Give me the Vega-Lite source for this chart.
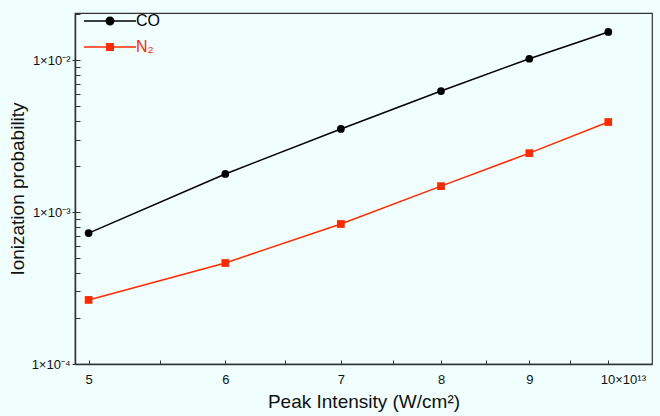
{
  "$schema": "https://vega.github.io/schema/vega-lite/v6.json",
  "width": 577,
  "height": 351,
  "autosize": {"type": "none"},
  "padding": {"left": 75, "top": 13, "right": 8, "bottom": 52},
  "background": "#f0fefe",
  "config": {
    "view": {"stroke": "#333333", "strokeWidth": 1.2},
    "font": "Liberation Sans",
    "axis": {"domainColor": "#333333", "domainWidth": 1.5, "tickColor": "#333333", "labelColor": "#111111", "grid": false, "labelFont": "Liberation Sans", "titleFont": "Liberation Sans"}
  },
  "data": {
    "values": [
      {"intensity": 5, "prob": 0.000727, "series": "CO"},
      {"intensity": 6, "prob": 0.00178, "series": "CO"},
      {"intensity": 7, "prob": 0.00352, "series": "CO"},
      {"intensity": 8, "prob": 0.00625, "series": "CO"},
      {"intensity": 9, "prob": 0.0102, "series": "CO"},
      {"intensity": 10, "prob": 0.0153, "series": "CO"},
      {"intensity": 5, "prob": 0.000264, "series": "N₂"},
      {"intensity": 6, "prob": 0.000462, "series": "N₂"},
      {"intensity": 7, "prob": 0.000834, "series": "N₂"},
      {"intensity": 8, "prob": 0.00148, "series": "N₂"},
      {"intensity": 9, "prob": 0.00244, "series": "N₂"},
      {"intensity": 10, "prob": 0.00391, "series": "N₂"}
    ]
  },
  "layer": [
    {
      "mark": {"type": "line", "strokeWidth": 1.5},
      "encoding": {
        "x": {
          "field": "intensity", "type": "quantitative",
          "scale": {"type": "log", "domain": [4.91, 10.6], "nice": false},
          "axis": {
            "orient": "bottom", "values": [5, 6, 7, 8, 9, 10], "tickSize": 0, "labelPadding": 9,
            "labelFontSize": 13, "labelFlush": false,
            "labelExpr": "datum.value == 10 ? '10×10¹³' : datum.label",
            "labelAlign": {"condition": {"test": "datum.value == 10", "value": "left"}, "value": "center"},
            "labelOffset": {"condition": {"test": "datum.value == 10", "value": -8}, "value": 0},
            "title": "Peak Intensity (W/cm²)", "titleFontSize": 19, "titleFontWeight": "normal", "titlePadding": 6, "titleColor": "#111111"
          }
        },
        "y": {
          "field": "prob", "type": "quantitative",
          "scale": {"type": "log", "domain": [0.0001, 0.0204], "nice": false},
          "axis": {
            "orient": "left", "values": [0.0001, 0.001, 0.01], "tickSize": 3, "labelPadding": 2,
            "labelFontSize": 13, "labelFlush": false,
            "labelExpr": "datum.value > 0.005 ? '1×10⁻²' : (datum.value > 0.0005 ? '1×10⁻³' : '1×10⁻⁴')",
            "title": "Ionization probability", "titleFontSize": 19, "titleFontWeight": "normal", "titlePadding": 4, "titleColor": "#111111"
          }
        },
        "color": {
          "field": "series", "type": "nominal",
          "scale": {"domain": ["CO", "N₂"], "range": ["#000000", "#ff2a00"]},
          "legend": null
        }
      }
    },
    {
      "mark": {"type": "point", "filled": true, "opacity": 1, "size": 60},
      "encoding": {
        "x": {
          "field": "intensity", "type": "quantitative",
          "axis": {"orient": "bottom", "values": [5, 5.5, 6, 6.5, 7, 7.5, 8, 8.5, 9, 9.5, 10], "tickSize": -4, "labels": false, "domain": false, "title": null}
        },
        "y": {
          "field": "prob", "type": "quantitative",
          "axis": {
            "orient": "left",
            "values": [0.0001, 0.0002, 0.0003, 0.0004, 0.0005, 0.0006, 0.0007, 0.0008, 0.0009, 0.001, 0.002, 0.003, 0.004, 0.005, 0.006, 0.007, 0.008, 0.009, 0.01, 0.02],
            "tickSize": -5, "labels": false, "domain": false, "title": null
          }
        },
        "color": {"field": "series", "type": "nominal", "legend": null},
        "shape": {
          "field": "series", "type": "nominal",
          "scale": {"domain": ["CO", "N₂"], "range": ["circle", "square"]},
          "legend": null
        }
      }
    },
    {
      "mark": {"type": "point", "filled": true, "size": 0},
      "encoding": {
        "x": {"field": "intensity", "type": "quantitative", "axis": null},
        "y": {"field": "prob", "type": "quantitative", "axis": null},
        "fill": {
          "field": "series", "type": "nominal",
          "scale": {"domain": ["CO", "N₂"], "range": ["#000000", "#ff2a00"]},
          "legend": {
            "title": null, "orient": "none", "legendX": 27, "legendY": 0,
            "symbolSize": 100, "symbolOpacity": 1, "symbolStrokeWidth": 0,
            "labelFontSize": 16, "labelOffset": 18, "rowPadding": 10, "padding": 0,
            "labelColor": {"expr": "datum.label == 'CO' ? '#000000' : '#ff2a00'"}
          }
        },
        "shape": {
          "field": "series", "type": "nominal",
          "scale": {
            "domain": ["CO", "N₂"],
            "range": [
              "M-5.2,-0.15H5.2V0.15H-5.2Z M0.9,0 A0.9,0.9 0 1,1 -0.9,0 A0.9,0.9 0 1,1 0.9,0Z",
              "M-5.2,-0.15H5.2V0.15H-5.2Z M-0.8,-0.8H0.8V0.8H-0.8Z"
            ]
          },
          "legend": {
            "title": null, "orient": "none", "legendX": 27, "legendY": 0,
            "symbolSize": 100, "symbolOpacity": 1, "symbolStrokeWidth": 0,
            "labelFontSize": 16, "labelOffset": 18, "rowPadding": 10, "padding": 0,
            "labelColor": {"expr": "datum.label == 'CO' ? '#000000' : '#ff2a00'"}
          }
        }
      }
    }
  ],
  "resolve": {"axis": {"x": "independent", "y": "independent"}, "scale": {"shape": "independent", "fill": "independent"}}
}
